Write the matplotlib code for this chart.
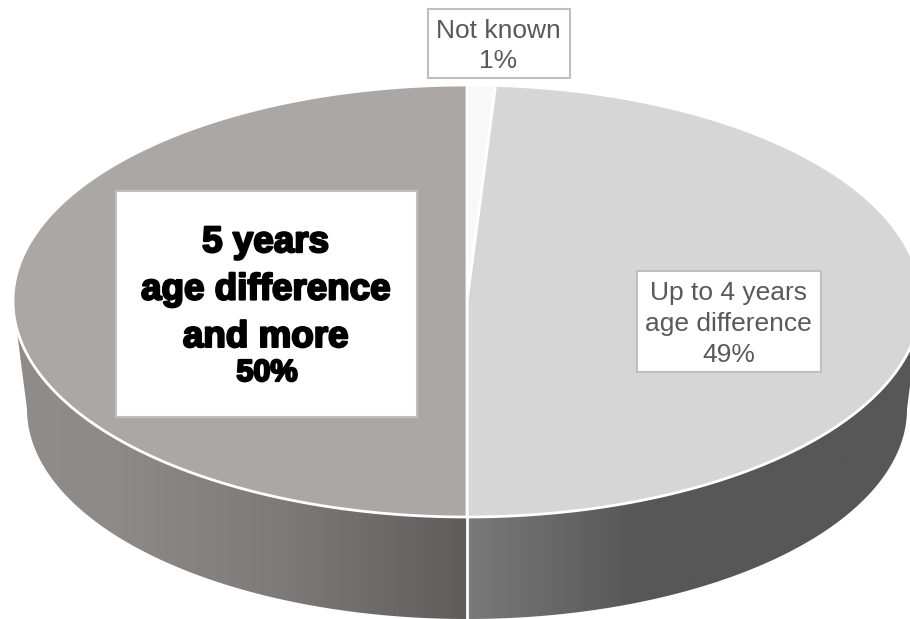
import numpy as np
import matplotlib
matplotlib.use("Agg")
import matplotlib.pyplot as plt
from matplotlib.patches import Polygon, Rectangle
from matplotlib.colors import LinearSegmentedColormap
import matplotlib.patheffects as pe

labels = ["Not known", "Up to 4 years\nage difference", "5 years\nage difference\nand more"]
values = [1, 49, 50]
face_colors = ["#f8f8f8", "#d6d6d6", "#aba7a5"]

W, H = 910, 619
cx, cy, rx, ry = 467, 301, 454, 216
bcy, brx, bry = 409, 440, 210

fig = plt.figure(figsize=(W / 100, H / 100), dpi=100)
ax = fig.add_axes([0, 0, 1, 1])
ax.set_axis_off()


def top(t):
    t = np.radians(t)
    return np.c_[cx + rx * np.sin(t), cy - ry * np.cos(t)]


def bottom(t):
    t = np.radians(t)
    return np.c_[cx + brx * np.sin(t), bcy - bry * np.cos(t)]


def side(t0, t1, x0, x1, stops, z):
    ts = np.linspace(t0, t1, 200)
    pts = np.r_[top(ts), bottom(ts[::-1])]
    poly = Polygon(pts, closed=True, fc="none", ec="none", zorder=z)
    ax.add_patch(poly)
    cmap = LinearSegmentedColormap.from_list("g", stops)
    im = ax.imshow(np.linspace(0, 1, 512)[None, :], cmap=cmap, aspect="auto",
                   extent=(x0, x1, H, 0), zorder=z, interpolation="bilinear")
    im.set_clip_path(poly)


# side walls
side(90, 180, 467, 915,
     [(0, "#7a7a7a"), (0.37, "#575757"), (1, "#575757")], 1)
side(180, 270, 10, 467,
     [(0, "#8f8c8a"), (0.22, "#8d8a88"), (0.6, "#7d7a79"), (1, "#5f5d5b")], 1)

# top face
angles = np.r_[0, np.cumsum(values)] * 3.6
for i, c in enumerate(face_colors):
    ts = np.linspace(angles[i], angles[i + 1], 200)
    pts = np.r_[[[cx, cy]], top(ts)]
    ax.add_patch(Polygon(pts, closed=True, fc=c, ec="white", lw=2,
                         joinstyle="round", zorder=2))
# wall divider
ax.plot([cx, cx], [cy + ry, bcy + bry], color="white", lw=2, zorder=3)

# labels
def box(x0, y0, x1, y1):
    ax.add_patch(Rectangle((x0, y0), x1 - x0, y1 - y0, fc="white",
                           ec="#bfbfbf", lw=1.5, zorder=4))


grey = "#595959"
font = "Liberation Sans"
box(427.5, 8.5, 570, 77.5)
ax.text(498.5, 46, f"{labels[0]}\n{values[0]}%", ha="center", va="center",
        fontsize=19, color=grey, family=font, linespacing=1.36, zorder=5)
box(636.5, 270.5, 821, 372)
ax.text(728.5, 324, f"{labels[1]}\n{values[1]}%", ha="center", va="center",
        fontsize=19, color=grey, family=font, linespacing=1.36, zorder=5)
box(116, 190.5, 417, 417)
heavy = [pe.withStroke(linewidth=1.6, foreground="black")]
ax.text(265.5, 290, labels[2], ha="center", va="center", fontsize=26.5,
        weight="bold", color="black", family=font, linespacing=1.46,
        path_effects=heavy, zorder=5)
ax.text(267, 373, f"{values[2]}%", ha="center", va="center", fontsize=22,
        weight="bold", color="black", family=font,
        path_effects=heavy, zorder=5)

ax.set_xlim(0, W)
ax.set_ylim(H, 0)
fig.savefig("out.png", dpi=100, facecolor="white")
